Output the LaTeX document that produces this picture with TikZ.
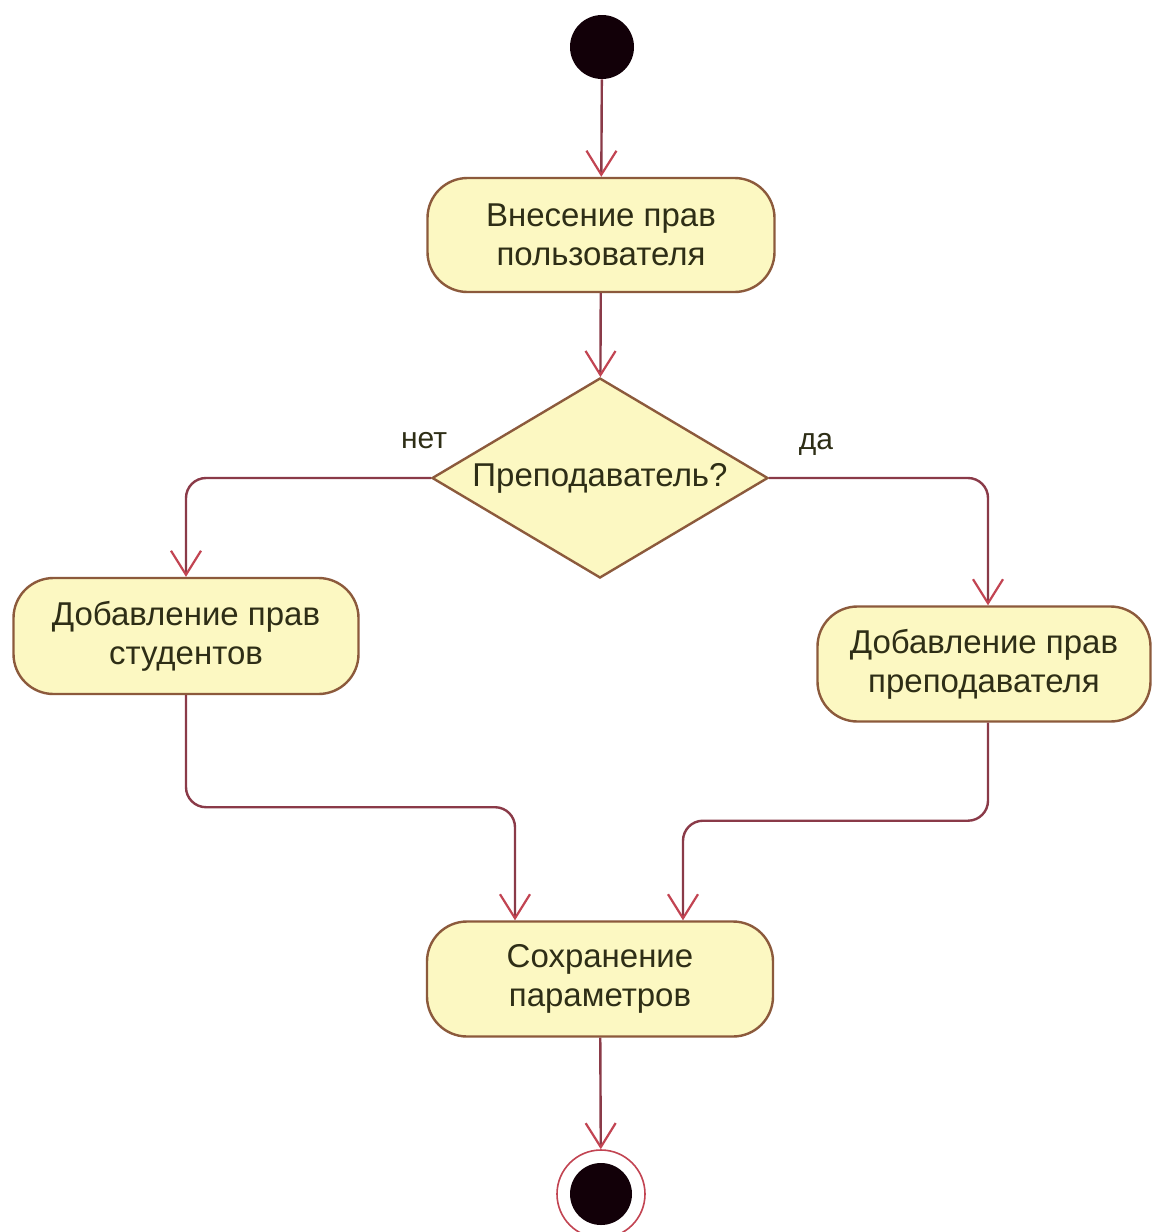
\documentclass[tikz,border=0pt]{standalone}
\usepackage{fontspec}
\setmainfont{Liberation Sans}
\usetikzlibrary{arrows.meta,shapes.geometric}

\definecolor{flowline}{HTML}{8A3A48}
\definecolor{flowtip}{HTML}{C24452}
\definecolor{boxedge}{HTML}{8C5A3C}
\definecolor{boxfill}{HTML}{FCF8C2}
\definecolor{txt}{HTML}{2E2E16}
\definecolor{dot}{HTML}{120008}

\tikzset{
  action/.style={draw=boxedge, line width=1.2pt, fill=boxfill, rounded corners=20pt,
    align=center, text=txt, inner sep=0pt,
    font=\fontsize{16.5}{19.5}\selectfont},
  choice/.style={draw=boxedge, line width=1.2pt, fill=boxfill, diamond, aspect=1.68,
    inner sep=0pt, minimum width=168pt, minimum height=100pt, text=txt,
    font=\fontsize{16.5}{19.5}\selectfont},
  guard/.style={text=txt, font=\fontsize{15}{18}\selectfont, inner sep=0pt},
  flow/.style={draw=flowline, line width=1.2pt, rounded corners=10pt,
    -{Straight Barb[length=12pt, width=15pt, color=flowtip, line width=1.1pt]}},
  initial/.style={circle, fill=dot, inner sep=0pt, minimum size=32pt},
  final/.style={circle, draw=flowtip, line width=0.8pt, fill=white, inner sep=0pt,
    minimum size=44pt,
    path picture={\fill[dot] (path picture bounding box.center) circle (15.5pt);}}
}

\begin{document}
\begin{tikzpicture}[x=0.5pt, y=-0.5pt]
  \useasboundingbox[fill=white] (0,0) rectangle (1153,1232);

  % states and actions
  \node[initial] (start) at (602,47) {};
  \node[action, minimum width=173.5pt, minimum height=57pt] (rights) at (601,235)
    {Внесение прав\\пользователя};
  \node[choice] (teacher) at (600,478) {Преподаватель?};
  \node[action, minimum width=172.5pt, minimum height=58pt] (students) at (186,636)
    {Добавление прав\\студентов};
  \node[action, minimum width=166.5pt, minimum height=57.5pt] (lecturers) at (984,664)
    {Добавление прав\\преподавателя};
  \node[action, minimum width=173pt, minimum height=57.5pt] (save) at (600,979)
    {Сохранение\\параметров};
  \node[final] (stop) at (601,1194) {};

  % guard labels
  \node[guard] (no) at (424,441) {нет};
  \node[guard] (yes) at (816,444) {да};

  % control flow
  \draw[flow] (start) -- (rights);
  \draw[flow] (rights) -- (teacher);
  \draw[flow] (teacher.west) -| (students.north);
  \draw[flow] (teacher.east) -| ([xshift=2pt]lecturers.north);
  \draw[flow] (students.south) -- ++(0,112) -| ([xshift=-42.5pt]save.north);
  \draw[flow] ([xshift=2pt]lecturers.south) -- ++(0,98) -| ([xshift=41.5pt]save.north);
  \draw[flow] (save) -- (stop);
\end{tikzpicture}
\end{document}
